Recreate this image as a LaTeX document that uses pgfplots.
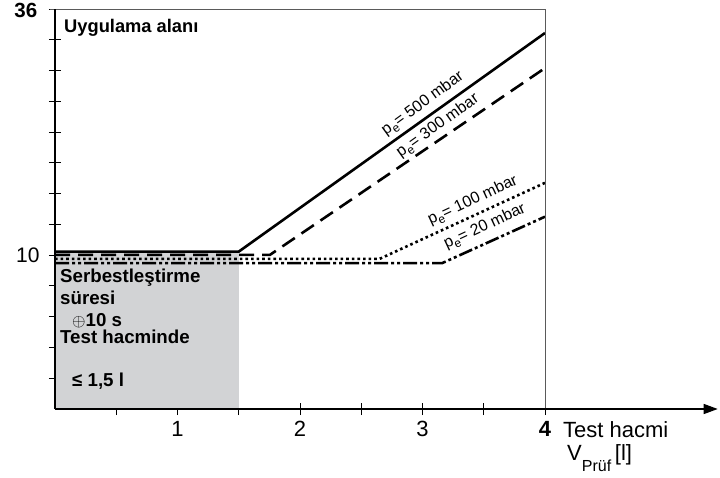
\documentclass[border=0pt]{standalone}
\usepackage{fontspec}
\setmainfont{Liberation Sans}
\usepackage{pgfplots}
\pgfplotsset{compat=1.18}
\usetikzlibrary{arrows.meta}

\definecolor{areagray}{RGB}{210,211,213}
\definecolor{framegray}{RGB}{90,90,90}
\newcommand{\pe}{p\raisebox{-4pt}{\fontsize{12}{12}\selectfont e}}

\begin{document}
\begin{tikzpicture}[x=1pt,y=1pt]
\useasboundingbox (0,0) rectangle (720,477);
\begin{axis}[
  at={(55pt,68pt)}, anchor=south west,
  scale only axis, width=490pt, height=400pt,
  xmin=0, xmax=4, ymin=0, ymax=13,
  clip=false,
  axis line style={draw=none},
  xtick pos=bottom, ytick pos=left,
  xtick={1,2,3,4}, xticklabels={1,2,3,\textbf{4}},
  minor xtick={0.5,1.5,2.5,3.5},
  ytick={5}, yticklabels={10},
  minor ytick={1,2,3,4,6,7,8,9,10,11,12,13},
  tick align=center,
  major tick length=12pt, minor tick length=12pt,
  every tick/.style={black, line width=0.9pt},
  xticklabel style={font=\fontsize{22}{22}\selectfont, yshift=-3pt},
  yticklabel style={font=\fontsize{21}{21}\selectfont, xshift=-6pt},
]
% grey area under the flat part
\addplot[draw=none, fill=areagray] coordinates {(0,5.115) (1.5,5.115)} \closedcycle;

% p_e = 500 mbar
\addplot[black, line width=2.6pt] coordinates {(0,5.115) (1.5,5.115) (4,12.22)};
% p_e = 300 mbar
\addplot[black, line width=2.6pt, dash pattern=on 15pt off 8pt] coordinates {(0,5.01) (1.755,5.01) (4,11.08)};
% p_e = 100 mbar
\addplot[black, line width=2.6pt, dash pattern=on 2.6pt off 3pt] coordinates {(0,4.88) (2.65,4.88) (4,7.35)};
% p_e = 20 mbar
\addplot[black, line width=2.6pt, dash pattern=on 14pt off 3pt on 3pt off 3pt on 3pt off 3pt] coordinates {(0,4.74) (3.16,4.74) (4,6.25)};

\draw[framegray, line width=0.8pt] (axis cs:-0.04,13) -- (axis cs:4,13) -- (axis cs:4,0);
\draw[black, line width=1.3pt] (axis cs:0,0) -- (axis cs:0,13);
\draw[black, line width=1.3pt, -{Triangle[length=14pt,width=10pt]}] (axis cs:0,0) -- (axis cs:5.41,0);
\end{axis}

\begin{scope}[every node/.style={inner sep=0pt}]
\node[anchor=base east, font=\fontsize{20.5}{20.5}\selectfont\bfseries] at (37.5,459) {36};
\node[anchor=base west, font=\fontsize{18.3}{18.3}\selectfont\bfseries] at (64,444.7) {Uygulama alanı};
\node[anchor=base west, font=\fontsize{18.7}{18.7}\selectfont\bfseries] at (60,194.3) {Serbestleştirme};
\node[anchor=base west, font=\fontsize{18.7}{18.7}\selectfont\bfseries] at (60,172) {süresi};
\node[anchor=base west, font=\fontsize{18.7}{18.7}\selectfont\bfseries] at (72,150.3) {$\oplus$10 s};
\node[anchor=base west, font=\fontsize{18.7}{18.7}\selectfont\bfseries] at (60,134) {Test hacminde};
\node[anchor=base west, font=\fontsize{18.7}{18.7}\selectfont\bfseries] at (72,90.3) {≤ 1,5 l};

\node[anchor=base west, font=\fontsize{22}{22}\selectfont] at (563,40) {Test hacmi};
\node[anchor=base west, font=\fontsize{22}{22}\selectfont] at (567,17)
  {V\raisebox{-11.5pt}{\fontsize{16}{16}\selectfont Prüf}\,[l]};

\node[rotate=36, font=\fontsize{16}{16}\selectfont] at (423,373) {\pe= 500 mbar};
\node[rotate=35.5, font=\fontsize{16}{16}\selectfont] at (438,351) {\pe= 300 mbar};
\node[rotate=25, font=\fontsize{16}{16}\selectfont] at (473,276) {\pe= 100 mbar};
\node[rotate=25, font=\fontsize{16}{16}\selectfont] at (485,250) {\pe= 20 mbar};
\end{scope}
\end{tikzpicture}
\end{document}
